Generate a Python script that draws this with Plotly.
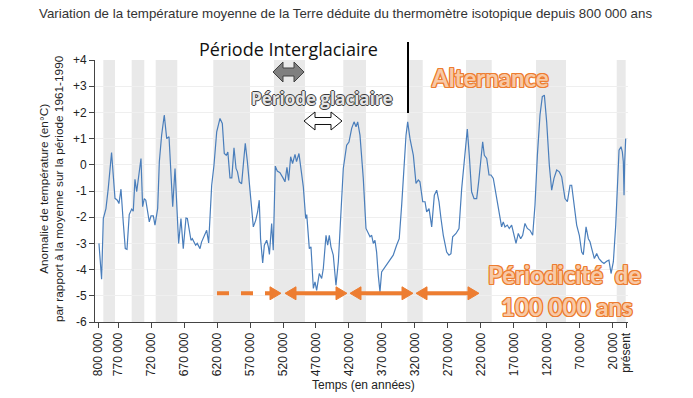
import plotly.graph_objects as go

# ---------------- data ----------------
years_k = [799, 795, 792.4, 788.4, 784.9, 779.9, 774.7, 771.2, 768.7, 765.6, 762.2, 759.1, 756.5, 753.1,
           749.4, 747.0, 744.4, 741.8, 735.3, 732.8, 730.3, 728, 722.7, 720.1, 716.6, 714.1, 710, 707.5,
           704, 700, 696.3, 692.8, 687.2, 683.7, 678.2, 674.7, 671.2, 667.1, 665, 659.5, 657.5, 652.4,
           650, 645.8, 643.5, 641, 635.7, 632.7, 628.1, 624.6, 620.5, 615.5, 612, 609, 606, 603.6,
           600.4, 597.6, 594.3, 591.2, 589, 586.2, 582.7, 580.2, 577.2, 574, 570, 565, 561.4, 558.5,
           556, 554, 550.8, 548.3, 544.7, 542.2, 540.6, 537.2, 534.8, 531.7, 528.7, 524.6, 520, 517,
           514, 511.5, 508.4, 505.5, 501.8, 499.5, 495.8, 493.2, 489.2, 485.6, 484, 480.1, 477.6, 474,
           471.5, 469, 465, 461.4, 458.9, 454.8, 452.3, 449.8, 447.3, 443.8, 439.7, 436.1, 432.1, 428.6,
           423.5, 420, 415.9, 412.3, 409.3, 406.8, 403.3, 398.3, 394.2, 391.7, 388.1, 385.6, 383.1,
           380.6, 378.1, 375.6, 373, 370.5, 366.9, 363.9, 360.4, 356.4, 352.9, 347.8, 343.8, 340.1,
           336.6, 333.5, 331, 327.5, 322.4, 318.4, 314.9, 312.4, 308.2, 304.7, 302.2, 298.6, 294.6,
           290.6, 287, 283.5, 280.5, 277, 271.9, 268.4, 265.4, 262.8, 257.7, 253.2, 249.1, 245.1, 240.6,
           237.6, 234.1, 230.4, 226.4, 223.4, 217.3, 214.8, 211.2, 207.7, 204.7, 201.2, 196.1, 192.1,
           188.6, 186.1, 183.5, 180, 177, 173.4, 170.9, 166.8, 163.3, 159.7, 156.7, 153.2, 149.6, 145.6,
           141.5, 138, 134.4, 130.4, 126.9, 123.8, 120.3, 116.3, 112.7, 109.2, 105.1, 101.1, 97.5,
           92.5, 88.9, 84.9, 82.4, 78.8, 74.8, 70.8, 67.2, 64.7, 60.6, 57.1, 54.6, 52, 48, 44.5, 41,
           36.9, 33.4, 29.4, 25.9, 22.7, 19.2, 15.6, 14.1, 12.6, 10.6, 7.6, 5.6, 4.1, 3.0, 2.0, 0.5]
temps = [-3.0, -4.37, -2.05, -1.67, -0.9, 0.47, -1.28, -1.35, -1.48, -0.93, -2.18, -3.2, -3.23, -1.9,
         -1.69, -1.77, -0.55, -1.03, 0.24, -1.6, -1.29, -1.35, -2.18, -1.95, -1.95, -2.3, -1.67, 0.11,
         1.13, 1.9, 1.0, 1.07, -1.6, -0.14, -3.0, -2.05, -3.2, -2.03, -2.05, -2.88, -2.82, -3.07,
         -3.0, -3.2, -2.95, -2.82, -2.5, -2.98, -0.78, -0.01, 1.26, 1.77, 1.58, 0.43, 0.36, 0.49,
         -0.5, -0.5, 0.65, -0.14, -0.27, -0.65, -0.72, -0.01, 0.82, 0.12, -0.9, -2.37, -2.12, -1.8,
         -1.35, -2.82, -3.75, -3.07, -2.88, -3.13, -3.42, -2.24, -3.26, -0.05, -0.24, -0.3, -0.5, -0.65,
         -0.1, -0.6, 0.31, 0.05, 0.4, 0.12, 0.43, 0.0, -0.84, -2.05, -1.9, -3.2, -3.13, -4.72,
         -4.47, -4.79, -4.15, -4.34, -3.96, -2.69, -3.07, -2.69, -3.13, -3.45, -4.6, -3.7, -1.92, -0.14,
         0.75, 0.87, 1.39, 1.64, 1.45, 1.64, 1.13, -0.52, -2.43, -2.56, -2.75, -2.69, -3.0,
         -2.88, -3.33, -4.21, -4.85, -4.09, -3.96, -3.83, -3.7, -3.58, -3.45, -3.07, -2.82, -1.54,
         0.12, 1.13, 1.64, 1.0, 0.36, -0.71, -0.58, -0.65, -1.41, -1.41, -1.8, -1.67, -2.37,
         -1.16, -0.97, -1.41, -2.05, -2.69, -3.33, -3.45, -3.39, -2.75, -2.62, -2.43, -0.9, 0.24, 1.36,
         0.36, -1.03, -1.29, -1.29, -0.65, 0.88, 0.36, 0.24, -0.39, -0.39, -0.52, -1.29, -1.92,
         -2.37, -2.18, -2.37, -2.3, -2.43, -2.3, -2.62, -3.0, -2.62, -2.82, -2.69, -2.24, -2.43, -2.5,
         -2.69, -1.54, 0.36, 1.9, 2.6, 2.66, 1.64, -0.01, -0.97, -0.52, -0.2, -0.27, -0.46,
         -1.29, -1.41, -0.78, -0.78, -1.54, -2.3, -2.69, -3.33, -3.43, -2.37, -2.82, -2.94, -3.2, -3.58, -3.39, -3.58,
         -3.7, -3.77, -3.68, -3.64, -4.15, -3.7, -2.3, -1.54, -0.9, 0.56, 0.69, 0.49, 0.12, -1.16, 0.12, 1.0]

band_start_k = [792.4, 749.4, 713.0, 625.7, 533.7, 428.6, 331.6, 242.6, 136.4, 14.1]
band_end_k = [774.7, 730.3, 680.3, 570.0, 486.7, 394.2, 308.2, 203.6, 91.0, 0.5]

x_tickvals = [800000, 770000, 720000, 670000, 620000, 570000, 520000, 470000, 420000, 370000,
              320000, 270000, 220000, 170000, 120000, 70000, 20000, 0]
x_ticktext = ["800 000", "770 000", "720 000", "670 000", "620 000", "570 000", "520 000", "470 000",
              "420 000", "370 000", "320 000", "270 000", "220 000", "170 000", "120 000", "70 000",
              "20 000", "présent"]
y_tickvals = [4, 3, 2, 1, 0, -1, -2, -3, -4, -5, -6]
y_ticktext = ["+4", "+3", "+2", "+1", "0", "-1", "-2", "-3", "-4", "-5", "-6"]

years = [v * 1000 for v in years_k]

# ---------------- layout geometry ----------------
W, H = 693, 398
L, R, T, B = 95, 628, 60, 322


def px(x):
    return (x - L) / (R - L)


def py(y):
    return (B - y) / (B - T)


def path(points):
    return "M " + " L ".join(f"{px(a):.5f},{py(b):.5f}" for a, b in points) + " Z"


FONT = "Liberation Sans, Arial, sans-serif"
CAL = "Open Sans, Noto Sans, sans-serif"
BOLDF = "Lato, Open Sans, sans-serif"
ORANGE = "#ed7d31"

fig = go.Figure()
fig.add_trace(go.Scatter(x=years, y=temps, mode="lines",
                         line=dict(color="#4a7ebb", width=1.2), hoverinfo="skip"))

shapes = []
for s, e in zip(band_start_k, band_end_k):
    shapes.append(dict(type="rect", xref="x", yref="y", x0=s * 1000, x1=e * 1000, y0=-6, y1=4,
                       fillcolor="#e9e9e9", line=dict(width=0), layer="below"))


def block_arrow(x0, x1, yc, h, shaft, head, fill, outline):
    pts = [(x0, yc), (x0 + head, yc - h / 2), (x0 + head, yc - shaft / 2), (x1 - head, yc - shaft / 2),
           (x1 - head, yc - h / 2), (x1, yc), (x1 - head, yc + h / 2), (x1 - head, yc + shaft / 2),
           (x0 + head, yc + shaft / 2), (x0 + head, yc + h / 2)]
    return dict(type="path", xref="paper", yref="paper", path=path(pts),
                fillcolor=fill, line=dict(color=outline, width=1), layer="above")


shapes.append(block_arrow(273, 304, 72, 20, 8, 10, "#7f7f7f", "#404040"))
shapes.append(block_arrow(304, 342, 121, 18, 7, 11, "#ffffff", "#111111"))

# vertical black line
shapes.append(dict(type="line", xref="paper", yref="paper", x0=px(408), x1=px(408), y0=py(42), y1=py(113),
                   line=dict(color="#000000", width=2)))


def head(xtip, yc, direction, length=11, h=13):
    xb = xtip - direction * length
    return dict(type="path", xref="paper", yref="paper",
                path=path([(xtip, yc), (xb, yc - h / 2), (xb, yc + h / 2)]),
                fillcolor=ORANGE, line=dict(color=ORANGE, width=1), layer="above")


ya = 293.3
shapes.append(dict(type="line", xref="paper", yref="paper", x0=px(217), x1=px(270), y0=py(ya), y1=py(ya),
                   line=dict(color=ORANGE, width=4, dash="dash"), layer="above"))
shapes.append(head(281, ya, 1))
for a, b in [(285, 347), (350, 413), (416, 479)]:
    shapes.append(dict(type="line", xref="paper", yref="paper", x0=px(a + 8), x1=px(b - 8), y0=py(ya), y1=py(ya),
                       line=dict(color=ORANGE, width=4), layer="above"))
    shapes.append(head(a, ya, -1))
    shapes.append(head(b, ya, 1))


def outline(col, d=1):
    return ", ".join(f"{dx}px {dy}px 0 {col}" for dx, dy in
                     [(-d, -d), (d, -d), (-d, d), (d, d), (0, d), (0, -d), (d, 0), (-d, 0)])


orange_shadow = outline(ORANGE)
grey_shadow = ", ".join(f"{dx}px {dy}px 0 #3a3a3a" for dx, dy in [(-1, 0), (1, 0), (0, 1), (0, -1)])

annotations = [
    dict(text="Variation de la température moyenne de la Terre déduite du thermomètre isotopique depuis 800 000 ans",
         x=px(345), y=py(13), xref="paper", yref="paper", showarrow=False, xanchor="center", yanchor="middle",
         font=dict(family=FONT, size=13.3, color="#333333")),
    dict(text="Anomalie de température (en°C)<br>par rapport à la moyenne sur la période 1961-1990",
         x=px(51), y=py(189), xref="paper", yref="paper", showarrow=False, textangle=-90,
         xanchor="center", yanchor="middle", font=dict(family=FONT, size=11.8, color="#222222")),
    dict(text="Temps (en années)", x=px(363), y=py(385), xref="paper", yref="paper", showarrow=False,
         xanchor="center", yanchor="middle", font=dict(family=FONT, size=12, color="#222222")),
    dict(text="Période Interglaciaire", x=px(288), y=py(49), xref="paper", yref="paper", showarrow=False,
         xanchor="center", yanchor="middle", font=dict(family=CAL, size=18, color="#111111")),
    dict(text="Période glaciaire", x=px(322), y=py(98), xref="paper", yref="paper", showarrow=False,
         xanchor="center", yanchor="middle",
         font=dict(family=CAL, size=17, color="#e6e6e6", weight="bold", shadow=grey_shadow)),
    dict(text="Alternance", x=px(490), y=py(77), xref="paper", yref="paper", showarrow=False,
         xanchor="center", yanchor="middle",
         font=dict(family=BOLDF, size=24, color="#f8c9a6", weight="bold", shadow=orange_shadow)),
    dict(text="Périodicité&nbsp;&nbsp;de", x=px(564), y=py(274), xref="paper", yref="paper", showarrow=False,
         xanchor="center", yanchor="middle",
         font=dict(family=BOLDF, size=24, color="#f8c9a6", weight="bold", shadow=orange_shadow)),
    dict(text="100 000 ans", x=px(566), y=py(306), xref="paper", yref="paper", showarrow=False,
         xanchor="center", yanchor="middle",
         font=dict(family=BOLDF, size=24, color="#f8c9a6", weight="bold", shadow=orange_shadow)),
]

fig.update_layout(
    width=W, height=H,
    margin=dict(l=L, r=W - R, t=T, b=H - B, pad=0),
    paper_bgcolor="white", plot_bgcolor="white",
    showlegend=False,
    shapes=shapes, annotations=annotations,
    xaxis=dict(range=[805000, -3000], tickmode="array", tickvals=x_tickvals, ticktext=x_ticktext,
               tickangle=-90, ticks="outside", ticklen=5, tickcolor="#444444", showline=True,
               linecolor="#444444", linewidth=1, showgrid=False, zeroline=False,
               tickfont=dict(family=FONT, size=12, color="#222222")),
    yaxis=dict(range=[-6, 4], tickmode="array", tickvals=y_tickvals, ticktext=y_ticktext,
               ticks="outside", ticklen=5, tickcolor="#444444", showline=True, linecolor="#444444",
               linewidth=1, showgrid=True, gridcolor="#efefef", gridwidth=1, zeroline=False,
               tickfont=dict(family=FONT, size=12, color="#222222")),
)

fig.write_html("out.html", config={"displayModeBar": False},
               post_script="document.body.style.margin='0px';document.body.style.overflow='hidden';")
